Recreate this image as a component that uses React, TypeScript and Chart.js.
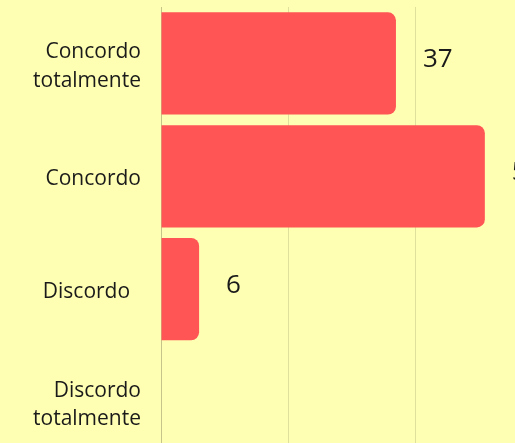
import React, { useEffect, useRef } from "react";
import { Chart, registerables } from "chart.js";

Chart.register(...registerables);

const categories: (string | string[])[] = [
  ["Concordo", "totalmente"],
  "Concordo",
  "Discordo  ",
  ["Discordo", "totalmente"],
];
const values: number[] = [37, 51, 6, 0];
const xMax = 60;
const xStep = 20;

const BG = "#FFFFB3";
const BAR = "#FF5555";
const GRID = "rgba(0,0,0,0.12)";
const TEXT = "#1a1a1a";

const valueLabels = {
  id: "valueLabels",
  afterDatasetsDraw(chart: any) {
    const ctx = chart.ctx;
    const meta = chart.getDatasetMeta(0);
    ctx.save();
    ctx.font = "26px 'Open Sans'";
    ctx.fillStyle = TEXT;
    ctx.textAlign = "left";
    ctx.textBaseline = "middle";
    meta.data.forEach((bar: any, i: number) => {
      const v = values[i];
      if (!v) return;
      ctx.fillText(String(v), bar.x + 27, bar.y - 4);
    });
    ctx.restore();
  },
};

export default function App() {
  const ref = useRef<HTMLCanvasElement | null>(null);

  useEffect(() => {
    if (!ref.current) return;
    Chart.defaults.font.family = "'Open Sans'";
    const chart = new Chart(ref.current, {
      type: "bar",
      data: {
        labels: categories,
        datasets: [
          {
            data: values,
            backgroundColor: BAR,
            borderRadius: 8,
            borderSkipped: "start",
            categoryPercentage: 1,
            barPercentage: 0.906,
          },
        ],
      },
      options: {
        indexAxis: "y",
        animation: false,
        responsive: false,
        devicePixelRatio: 1,
        layout: { padding: { top: 7, left: 0, right: 18, bottom: 0 } },
        plugins: {
          legend: { display: false },
          tooltip: { enabled: false },
        },
        scales: {
          x: {
            min: 0,
            max: xMax,
            ticks: { stepSize: xStep, color: TEXT, font: { size: 21 } },
            grid: { color: GRID },
            border: { display: false },
            afterFit: (s: any) => {
              s.height = 490 - 458.4;
              s.paddingLeft = 0;
              s.paddingRight = 0;
            },
          },
          y: {
            ticks: {
              color: TEXT,
              font: { size: 21, lineHeight: 1.36 },
              padding: 12,
              labelOffset: 3,
            },
            grid: { display: false },
            border: { display: true, color: GRID },
            afterFit: (s: any) => {
              s.width = 161;
              s.paddingTop = 0;
              s.paddingBottom = 0;
            },
          },
        },
      },
      plugins: [valueLabels],
    });
    return () => chart.destroy();
  }, []);

  return (
    <div
      style={{
        position: "fixed",
        left: 0,
        top: 0,
        width: 515,
        height: 443,
        background: BG,
        overflow: "hidden",
      }}
    >
      <canvas
        ref={ref}
        width={560}
        height={490}
        style={{ display: "block", width: 560, height: 490 }}
      />
    </div>
  );
}
